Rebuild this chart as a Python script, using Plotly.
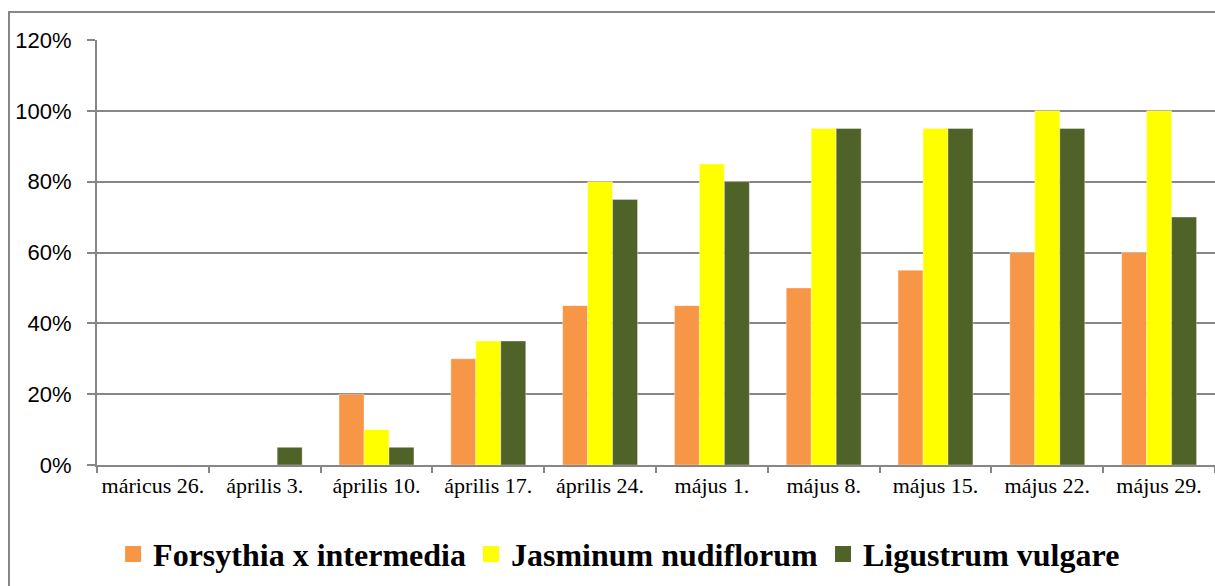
import plotly.graph_objects as go

# Weekly sampling dates
dates = ["máricus 26.", "április 3.", "április 10.", "április 17.", "április 24.",
         "május 1.", "május 8.", "május 15.", "május 22.", "május 29."]

# Share of flowering/leafing per species (fraction)
forsythia = [0.00, 0.00, 0.20, 0.30, 0.45, 0.45, 0.50, 0.55, 0.60, 0.60]
jasminum = [0.00, 0.00, 0.10, 0.35, 0.80, 0.85, 0.95, 0.95, 1.00, 1.00]
ligustrum = [0.00, 0.05, 0.05, 0.35, 0.75, 0.80, 0.95, 0.95, 0.95, 0.70]

series_names = ["Forsythia x intermedia", "Jasminum nudiflorum", "Ligustrum vulgare"]
series_values = [forsythia, jasminum, ligustrum]
series_colors = ["#F79646", "#FFFF00", "#4F6228"]

y_ticks = [0, 0.2, 0.4, 0.6, 0.8, 1.0, 1.2]
y_tick_text = ["0%", "20%", "40%", "60%", "80%", "100%", "120%"]

W, H = 1215, 586
L, T, B, R = 97, 40, 121, 0
GRID = "#868686"

fig = go.Figure()
for name, vals, col in zip(series_names, series_values, series_colors):
    fig.add_trace(go.Bar(
        x=dates, y=vals, name=name, showlegend=False,
        marker=dict(color=col, line=dict(width=0.6, color="rgba(255,255,255,0.6)")),
    ))
    # legend entry with a larger square swatch
    fig.add_trace(go.Scatter(
        x=[None], y=[None], mode="markers", name=name,
        marker=dict(symbol="square", size=19, color=col),
    ))

fig.update_layout(
    width=W, height=H,
    margin=dict(l=L, r=R, t=T, b=B, pad=0, autoexpand=False),
    paper_bgcolor="white", plot_bgcolor="white",
    barmode="group", bargap=0.33, bargroupgap=0,
    showlegend=True,
    legend=dict(
        orientation="h", x=0.467, xanchor="center", y=-0.145, yanchor="top",
        font=dict(family="Liberation Serif", size=32, color="black", weight="bold"),
        itemsizing="trace", tracegroupgap=0,
        bgcolor="rgba(0,0,0,0)",
    ),
    xaxis=dict(
        type="category", range=[-0.5, 9.5],
        showline=True, linecolor=GRID, linewidth=2,
        ticks="outside", ticklen=6, tickcolor=GRID, tickwidth=1.5,
        tickson="boundaries", showgrid=False, tickangle=0, automargin=False,
        tickfont=dict(family="Liberation Serif", size=22, color="black"),
        fixedrange=True,
    ),
    yaxis=dict(
        range=[0, 1.2], tickvals=y_ticks, ticktext=y_tick_text,
        showline=True, linecolor=GRID, linewidth=2,
        ticks="outside", ticklen=8, tickcolor=GRID, tickwidth=1.5,
        showgrid=True, gridcolor=GRID, gridwidth=2, zeroline=False,
        tickfont=dict(family="Liberation Sans", size=22, color="black"),
        ticklabelstandoff=11, automargin=False,
        fixedrange=True,
    ),
)

# Outer chart frame (left and top edges visible, the rest runs off the page)
pw = W - L - R
ph = H - T - B
fig.add_shape(
    type="rect", xref="paper", yref="paper",
    x0=(9 - L) / pw, x1=(W + 20 - L) / pw,
    y0=-(H + 20 - T - ph) / ph,
    y1=(T - 12) / ph + 1,
    line=dict(color=GRID, width=2), fillcolor="rgba(0,0,0,0)", layer="below",
)

fig.write_html("out.html")
